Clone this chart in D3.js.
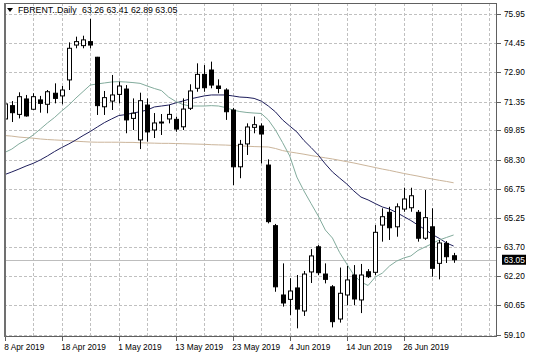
<!DOCTYPE html>
<html><head><meta charset="utf-8">
<script src="https://cdnjs.cloudflare.com/ajax/libs/d3/7.8.5/d3.min.js"></script>
<style>html,body{margin:0;padding:0;background:#fff}svg{display:block}</style>
</head><body>
<svg id="chart" width="536" height="358"></svg>
<script>
const symbol = "FBRENT..Daily";
const lastQuote = ["63.26", "63.41", "62.89", "63.05"];
const dates = ["2019-04-08","2019-04-09","2019-04-10","2019-04-11","2019-04-12","2019-04-15","2019-04-16","2019-04-17","2019-04-18",
"2019-04-22","2019-04-23","2019-04-24","2019-04-25","2019-04-26","2019-04-29","2019-04-30",
"2019-05-01","2019-05-02","2019-05-03","2019-05-06","2019-05-07","2019-05-08","2019-05-09","2019-05-10",
"2019-05-13","2019-05-14","2019-05-15","2019-05-16","2019-05-17","2019-05-20","2019-05-21","2019-05-22",
"2019-05-23","2019-05-24","2019-05-27","2019-05-28","2019-05-29","2019-05-30","2019-05-31",
"2019-06-03","2019-06-04","2019-06-05","2019-06-06","2019-06-07","2019-06-10","2019-06-11","2019-06-12","2019-06-13",
"2019-06-14","2019-06-17","2019-06-18","2019-06-19","2019-06-20","2019-06-21","2019-06-24","2019-06-25",
"2019-06-26","2019-06-27","2019-06-28","2019-07-01","2019-07-02","2019-07-03","2019-07-04","2019-07-05"];
const open  = [70.44,71.14,70.68,71.49,70.95,71.44,71.21,71.79,71.65,72.49,74.32,74.29,74.50,73.68,71.08,71.38,
71.73,72.01,70.47,69.34,71.17,69.86,70.23,70.44,70.42,70.03,71.00,72.05,72.78,73.01,72.17,71.96,
70.91,67.93,69.13,70.00,70.07,68.02,64.84,61.20,60.97,61.57,60.36,62.41,63.73,62.30,61.63,59.94,
61.20,62.25,60.94,62.42,62.39,64.87,65.54,64.78,65.71,65.78,65.54,64.18,64.78,62.86,63.91,63.26];
const high  = [71.40,71.38,71.84,71.70,71.79,71.65,71.96,72.31,72.17,74.46,74.76,74.81,75.69,73.70,71.91,72.75,
72.40,72.22,71.52,71.82,71.52,70.75,70.70,71.17,70.56,71.52,72.26,73.36,73.27,73.45,72.52,72.05,
71.02,69.34,70.21,70.57,70.21,68.32,64.93,62.86,62.08,62.25,62.46,63.61,63.82,62.86,61.72,62.64,
62.72,62.77,62.83,62.56,64.87,65.75,65.83,66.01,66.83,66.83,65.66,66.71,65.75,64.09,64.03,63.41];
const low   = [70.20,70.28,70.47,70.56,70.91,70.77,70.74,71.26,71.21,71.96,74.15,74.15,74.15,70.65,70.65,70.91,
71.26,69.69,69.86,68.86,69.25,69.44,69.60,70.21,69.77,69.86,70.91,71.87,71.87,72.05,71.79,70.39,
66.97,67.33,68.55,69.69,68.11,64.96,61.37,60.59,60.15,59.45,60.10,61.83,62.25,61.81,59.50,59.75,
60.67,60.67,60.25,62.09,62.25,64.00,64.09,64.26,65.57,65.57,64.00,64.09,62.16,62.02,62.88,62.89];
const close = [71.23,70.77,71.61,70.60,71.61,71.26,71.87,71.52,71.96,74.15,74.50,74.59,74.32,71.14,71.56,71.70,
72.17,70.39,70.74,71.40,69.76,70.23,70.28,70.68,69.91,70.96,71.91,72.78,72.08,72.22,72.04,70.82,
67.93,69.11,70.02,70.14,69.65,65.05,61.63,60.78,61.41,60.46,62.30,63.25,62.37,62.02,59.80,61.29,
61.99,60.99,62.25,62.16,64.49,65.31,64.73,65.83,66.24,66.41,64.18,65.26,62.60,63.93,63.21,63.05];
const maFast = [68.68,68.86,69.13,69.34,69.60,69.91,70.23,70.52,70.86,71.17,71.54,71.88,72.22,72.28,72.33,72.38,
72.40,72.38,72.35,72.31,72.17,72.04,71.93,71.59,71.36,71.20,71.12,71.12,71.12,71.14,71.12,71.04,
70.91,70.83,70.78,70.75,70.73,70.39,69.86,69.20,68.50,67.39,66.66,66.00,65.35,64.61,64.19,63.43,
62.83,62.25,61.88,61.70,62.14,62.35,62.72,62.98,63.14,63.25,63.54,63.72,63.90,64.09,64.22,64.35];
const maMid = [67.52,67.66,67.81,67.97,68.11,68.29,68.50,68.73,68.94,69.13,69.34,69.57,69.78,70.02,70.25,70.44,
70.62,70.67,70.75,70.82,70.91,71.07,71.12,71.17,71.28,71.38,71.49,71.57,71.65,71.70,71.70,71.70,
71.65,71.59,71.57,71.52,71.38,71.12,70.81,70.39,70.07,69.76,69.31,68.94,68.55,68.08,67.66,67.34,
67.03,66.66,66.34,66.19,66.00,65.82,65.71,65.53,65.32,65.11,64.87,64.64,64.38,64.17,63.93,63.77];
const maSlow = [69.57,69.54,69.49,69.46,69.43,69.39,69.36,69.34,69.32,69.30,69.27,69.25,69.23,69.22,69.22,69.22,
69.22,69.21,69.21,69.19,69.18,69.17,69.16,69.16,69.15,69.14,69.13,69.12,69.11,69.09,69.08,69.07,
69.05,69.03,69.01,68.99,68.98,68.97,68.89,68.78,68.71,68.65,68.59,68.52,68.46,68.40,68.34,68.27,
68.20,68.13,68.05,67.97,67.89,67.81,67.74,67.66,67.58,67.51,67.44,67.36,67.29,67.22,67.16,67.09];
const priceTicks = ["75.95","74.45","72.90","71.35","69.85","68.30","66.75","65.25","63.70","62.20","60.65","59.10"];
const dateTicks = ["8 Apr 2019","18 Apr 2019","1 May 2019","13 May 2019","23 May 2019","4 Jun 2019","14 Jun 2019","26 Jun 2019"];

const svg = d3.select("#chart");
const L = 4, T = 3, R = 497, B = 337;
const font = "'Liberation Sans', Arial, sans-serif";
const x = d3.scaleLinear().domain([0, 63]).range([4.7, 453.6]);
const y = d3.scaleLinear().domain([59.10, 75.95]).range([335, 14]);
const fmt = d3.timeFormat("%-d %b %Y"), parse = d3.timeParse("%Y-%m-%d");
const dateLabels = dates.map(d => fmt(parse(d)));

svg.append("defs").append("clipPath").attr("id", "plot")
  .append("rect").attr("x", L + 1).attr("y", T).attr("width", R - L - 1).attr("height", B - T);

// grid
const gridIdx = d3.range(0, 70, 4);
svg.append("g").selectAll("line").data(gridIdx).join("line")
  .attr("x1", d => Math.round(x(d)) + 0.5).attr("x2", d => Math.round(x(d)) + 0.5)
  .attr("y1", T).attr("y2", B)
  .attr("stroke", "#c0c0c0").attr("stroke-dasharray", "3,2");
svg.append("g").selectAll("line").data(priceTicks).join("line")
  .attr("x1", L).attr("x2", R)
  .attr("y1", d => Math.round(y(+d)) + 0.5).attr("y2", d => Math.round(y(+d)) + 0.5)
  .attr("stroke", "#c0c0c0").attr("stroke-dasharray", "3,2");

// current price line
const last = close[close.length - 1];
svg.append("line").attr("x1", L).attr("x2", R)
  .attr("y1", Math.round(y(last)) + 0.5).attr("y2", Math.round(y(last)) + 0.5)
  .attr("stroke", "#bdbdbd");

const g = svg.append("g").attr("clip-path", "url(#plot)");
const idx = d3.range(close.length);

// moving averages
const lineGen = arr => d3.line().x(i => x(i)).y(i => y(arr[i]))(idx);
g.append("path").attr("d", lineGen(maSlow)).attr("fill", "none").attr("stroke", "#cbb59b").attr("stroke-width", 1);
g.append("path").attr("d", lineGen(maMid)).attr("fill", "none").attr("stroke", "#1e1e5c").attr("stroke-width", 1);
g.append("path").attr("d", lineGen(maFast)).attr("fill", "none").attr("stroke", "#82ab9c").attr("stroke-width", 1);

// candles
const cg = g.append("g");
cg.selectAll("line").data(idx).join("line")
  .attr("x1", i => Math.round(x(i)) + 0.5).attr("x2", i => Math.round(x(i)) + 0.5)
  .attr("y1", i => y(high[i])).attr("y2", i => y(low[i]))
  .attr("stroke", "#000");
cg.selectAll("rect").data(idx).join("rect")
  .attr("x", i => Math.round(x(i)) - 1.5)
  .attr("width", 4)
  .attr("y", i => Math.min(y(open[i]), y(close[i])))
  .attr("height", i => Math.max(1, Math.abs(y(open[i]) - y(close[i]))))
  .attr("fill", i => close[i] >= open[i] ? "#fff" : "#000")
  .attr("stroke", "#000");

// frame
svg.append("rect").attr("x", L + 0.5).attr("y", T + 0.5).attr("width", R - L - 1).attr("height", B - T - 1)
  .attr("fill", "none").attr("stroke", "#606060");
svg.append("line").attr("x1", L + 1).attr("x2", L + 1).attr("y1", T).attr("y2", B).attr("stroke", "#707070").attr("stroke-width", 2);

// right axis
const ra = svg.append("g");
ra.selectAll("line").data(priceTicks).join("line")
  .attr("x1", R).attr("x2", R + 4)
  .attr("y1", d => Math.round(y(+d)) + 0.5).attr("y2", d => Math.round(y(+d)) + 0.5)
  .attr("stroke", "#606060");
ra.selectAll("text").data(priceTicks).join("text")
  .attr("x", 504).attr("y", d => y(+d) + 3)
  .attr("font-family", font).attr("font-size", 8.3).attr("fill", "#000")
  .text(d => d);

// current price tag
svg.append("rect").attr("x", 502).attr("y", y(last) - 5).attr("width", 24).attr("height", 10).attr("fill", "#000");
svg.append("text").attr("x", 504).attr("y", y(last) + 3)
  .attr("font-family", font).attr("font-size", 8.3).attr("fill", "#fff").text(last.toFixed(2));

// bottom axis
const ba = svg.append("g");
const dtIdx = dateTicks.map(t => dateLabels.indexOf(t));
ba.selectAll("line").data(dtIdx).join("line")
  .attr("x1", i => Math.round(x(i)) + 0.5).attr("x2", i => Math.round(x(i)) + 0.5)
  .attr("y1", B).attr("y2", B + 4).attr("stroke", "#606060");
ba.selectAll("text").data(dtIdx).join("text")
  .attr("x", i => x(i) - 0.5).attr("y", 350)
  .attr("font-family", font).attr("font-size", 8.3).attr("fill", "#000")
  .text(i => dateLabels[i]);

// title
svg.append("path").attr("d", "M7,8 L13,8 L10,12 Z").attr("fill", "#000");
svg.append("text").attr("x", 18).attr("y", 13.3)
  .attr("font-family", font).attr("font-size", 8.8).attr("fill", "#000")
  .text(symbol);
svg.append("text").attr("x", 82).attr("y", 13.3)
  .attr("font-family", font).attr("font-size", 8.8).attr("fill", "#000")
  .text(lastQuote.join(" "));
</script>
</body></html>
